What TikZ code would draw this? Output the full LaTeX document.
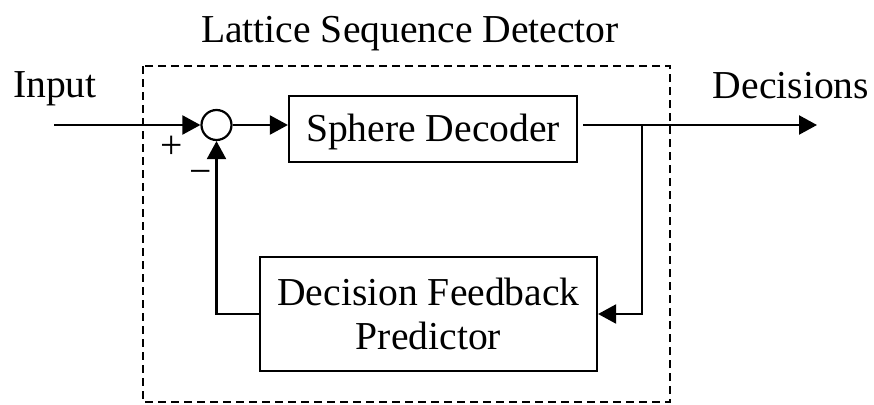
\documentclass[tikz,border=0pt]{standalone}
\usepackage{fontspec}
\setmainfont{Liberation Serif}
\usetikzlibrary{arrows.meta}

\tikzset{
  wire/.style={line width=2.2pt},
  flow/.style={wire, -{Triangle[length=18pt,width=19pt]}},
  blockbox/.style={draw, line width=2.2pt, inner sep=0pt, align=center},
  label/.style={inner sep=0pt, anchor=base},
  bigtext/.style={font=\fontsize{39.6}{44}\selectfont},
}

\begin{document}
\begin{tikzpicture}[x=1pt, y=-1pt, bigtext]
  \useasboundingbox (0,0) rectangle (874,404);

  % enclosing detector boundary
  \draw[line width=2.2pt, dash pattern=on 8pt off 5pt] (143,66) rectangle (670,402);
  \node[label] (title) at (410,43) {Lattice Sequence Detector};

  % blocks
  \node[draw, circle, line width=2.2pt, minimum size=30pt, inner sep=0pt] (sum) at (216.5,125) {};
  \node[blockbox, minimum width=288pt, minimum height=66pt,
        text height=27pt, text depth=2pt] (sd) at (433,129) {Sphere Decoder};
  \node[blockbox, minimum width=337pt, minimum height=114pt] (dfp) at (428.5,314)
      {Decision Feedback\\Predictor};

  % external labels
  \node[label] (inlab) at (55,97) {Input};
  \node[label] (outlab) at (791,98) {Decisions};
  \node[inner sep=0pt] (plus) at (172,147) {+};
  \node[inner sep=0pt] (minus) at (201,177) {\textminus};

  % signal path
  \coordinate (in) at (54,125);
  \coordinate (out) at (817,125);
  \coordinate (tap) at (642,125);
  \draw[flow] (in) -- (sum.west);
  \draw[flow] (sum.east) -- (sd.west |- sum.east);
  \draw[flow] ([xshift=5pt]sd.east |- sum.east) -- (out);

  % feedback loop
  \draw[flow] (tap) |- (dfp.east);
  \draw[flow] (dfp.west) -| (sum.south);
\end{tikzpicture}
\end{document}
